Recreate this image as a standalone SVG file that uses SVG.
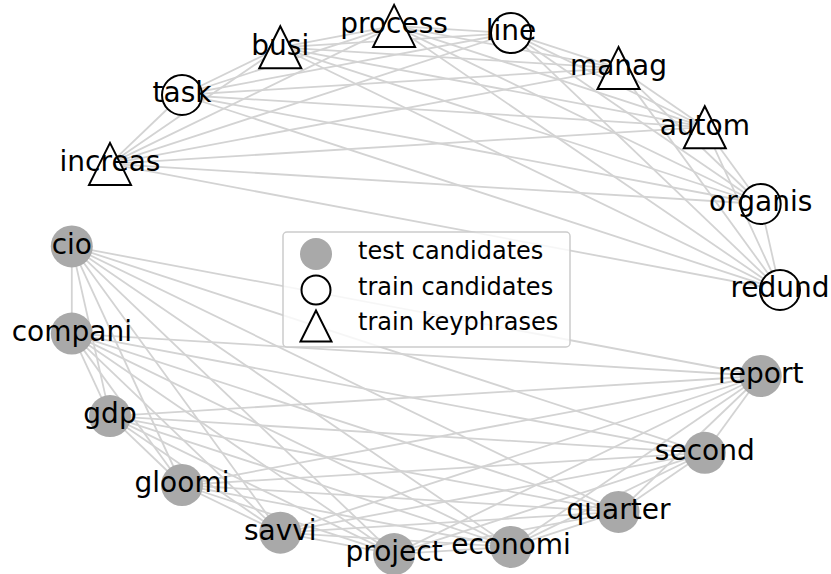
<svg xmlns="http://www.w3.org/2000/svg" xmlns:xlink="http://www.w3.org/1999/xlink" width="831" height="574" viewBox="0 0 831 574">
  <style>
    .e { stroke: #d3d3d3; stroke-width: 1.8; }
    .test { fill: #a9a9a9; }
    .cand { fill: #ffffff; stroke: #000000; stroke-width: 2; }
    .kp { fill: #ffffff; stroke: #000000; stroke-width: 2; stroke-linejoin: miter; }
    .lbl { font-family: "DejaVu Sans", "Liberation Sans", sans-serif; font-size: 28px; fill: #000000; text-anchor: middle; }
    .leg { font-family: "DejaVu Sans", "Liberation Sans", sans-serif; font-size: 24px; fill: #000000; }
  </style>
  <defs>
    <path id="tri" d="M0,-21 L-21,21 L21,21 Z"/>
    <path id="triS" d="M0,-15.5 L-15.5,15.5 L15.5,15.5 Z"/>
  </defs>
  <rect width="831" height="574" fill="#ffffff"/>

  <!-- connectors: two fully connected groups -->
  <g id="edges" class="e">
    <!-- upper group -->
    <line x1="780" y1="290" x2="760.7" y2="204"/>
    <line x1="780" y1="290" x2="704.8" y2="127.2"/>
    <line x1="780" y1="290" x2="618.5" y2="68.1"/>
    <line x1="780" y1="290" x2="511" y2="33.1"/>
    <line x1="780" y1="290" x2="394.1" y2="25.9"/>
    <line x1="780" y1="290" x2="280.3" y2="47.3"/>
    <line x1="780" y1="290" x2="182" y2="95"/>
    <line x1="780" y1="290" x2="110" y2="163.9"/>
    <line x1="760.7" y1="204" x2="704.8" y2="127.2"/>
    <line x1="760.7" y1="204" x2="618.5" y2="68.1"/>
    <line x1="760.7" y1="204" x2="511" y2="33.1"/>
    <line x1="760.7" y1="204" x2="394.1" y2="25.9"/>
    <line x1="760.7" y1="204" x2="280.3" y2="47.3"/>
    <line x1="760.7" y1="204" x2="182" y2="95"/>
    <line x1="760.7" y1="204" x2="110" y2="163.9"/>
    <line x1="704.8" y1="127.2" x2="618.5" y2="68.1"/>
    <line x1="704.8" y1="127.2" x2="511" y2="33.1"/>
    <line x1="704.8" y1="127.2" x2="394.1" y2="25.9"/>
    <line x1="704.8" y1="127.2" x2="280.3" y2="47.3"/>
    <line x1="704.8" y1="127.2" x2="182" y2="95"/>
    <line x1="704.8" y1="127.2" x2="110" y2="163.9"/>
    <line x1="618.5" y1="68.1" x2="511" y2="33.1"/>
    <line x1="618.5" y1="68.1" x2="394.1" y2="25.9"/>
    <line x1="618.5" y1="68.1" x2="280.3" y2="47.3"/>
    <line x1="618.5" y1="68.1" x2="182" y2="95"/>
    <line x1="618.5" y1="68.1" x2="110" y2="163.9"/>
    <line x1="511" y1="33.1" x2="394.1" y2="25.9"/>
    <line x1="511" y1="33.1" x2="280.3" y2="47.3"/>
    <line x1="511" y1="33.1" x2="182" y2="95"/>
    <line x1="511" y1="33.1" x2="110" y2="163.9"/>
    <line x1="394.1" y1="25.9" x2="280.3" y2="47.3"/>
    <line x1="394.1" y1="25.9" x2="182" y2="95"/>
    <line x1="394.1" y1="25.9" x2="110" y2="163.9"/>
    <line x1="280.3" y1="47.3" x2="182" y2="95"/>
    <line x1="280.3" y1="47.3" x2="110" y2="163.9"/>
    <line x1="182" y1="95" x2="110" y2="163.9"/>
    <!-- lower group -->
    <line x1="71.8" y1="246.4" x2="71.8" y2="333.6"/>
    <line x1="71.8" y1="246.4" x2="110" y2="416.1"/>
    <line x1="71.8" y1="246.4" x2="182" y2="485"/>
    <line x1="71.8" y1="246.4" x2="280.3" y2="532.7"/>
    <line x1="71.8" y1="246.4" x2="394.1" y2="554.1"/>
    <line x1="71.8" y1="246.4" x2="511" y2="546.9"/>
    <line x1="71.8" y1="246.4" x2="618.5" y2="511.9"/>
    <line x1="71.8" y1="246.4" x2="704.8" y2="452.8"/>
    <line x1="71.8" y1="246.4" x2="760.7" y2="376"/>
    <line x1="71.8" y1="333.6" x2="110" y2="416.1"/>
    <line x1="71.8" y1="333.6" x2="182" y2="485"/>
    <line x1="71.8" y1="333.6" x2="280.3" y2="532.7"/>
    <line x1="71.8" y1="333.6" x2="394.1" y2="554.1"/>
    <line x1="71.8" y1="333.6" x2="511" y2="546.9"/>
    <line x1="71.8" y1="333.6" x2="618.5" y2="511.9"/>
    <line x1="71.8" y1="333.6" x2="704.8" y2="452.8"/>
    <line x1="71.8" y1="333.6" x2="760.7" y2="376"/>
    <line x1="110" y1="416.1" x2="182" y2="485"/>
    <line x1="110" y1="416.1" x2="280.3" y2="532.7"/>
    <line x1="110" y1="416.1" x2="394.1" y2="554.1"/>
    <line x1="110" y1="416.1" x2="511" y2="546.9"/>
    <line x1="110" y1="416.1" x2="618.5" y2="511.9"/>
    <line x1="110" y1="416.1" x2="704.8" y2="452.8"/>
    <line x1="110" y1="416.1" x2="760.7" y2="376"/>
    <line x1="182" y1="485" x2="280.3" y2="532.7"/>
    <line x1="182" y1="485" x2="394.1" y2="554.1"/>
    <line x1="182" y1="485" x2="511" y2="546.9"/>
    <line x1="182" y1="485" x2="618.5" y2="511.9"/>
    <line x1="182" y1="485" x2="704.8" y2="452.8"/>
    <line x1="182" y1="485" x2="760.7" y2="376"/>
    <line x1="280.3" y1="532.7" x2="394.1" y2="554.1"/>
    <line x1="280.3" y1="532.7" x2="511" y2="546.9"/>
    <line x1="280.3" y1="532.7" x2="618.5" y2="511.9"/>
    <line x1="280.3" y1="532.7" x2="704.8" y2="452.8"/>
    <line x1="280.3" y1="532.7" x2="760.7" y2="376"/>
    <line x1="394.1" y1="554.1" x2="511" y2="546.9"/>
    <line x1="394.1" y1="554.1" x2="618.5" y2="511.9"/>
    <line x1="394.1" y1="554.1" x2="704.8" y2="452.8"/>
    <line x1="394.1" y1="554.1" x2="760.7" y2="376"/>
    <line x1="511" y1="546.9" x2="618.5" y2="511.9"/>
    <line x1="511" y1="546.9" x2="704.8" y2="452.8"/>
    <line x1="511" y1="546.9" x2="760.7" y2="376"/>
    <line x1="618.5" y1="511.9" x2="704.8" y2="452.8"/>
    <line x1="618.5" y1="511.9" x2="760.7" y2="376"/>
    <line x1="704.8" y1="452.8" x2="760.7" y2="376"/>
  </g>

  <!-- test candidates -->
  <g id="n-cio"><circle class="test" cx="71.8" cy="246.4" r="21"/><text class="lbl" x="71.8" y="253.7">cio</text></g>
  <g id="n-compani"><circle class="test" cx="71.8" cy="333.6" r="21"/><text class="lbl" x="71.8" y="340.9">compani</text></g>
  <g id="n-gdp"><circle class="test" cx="110" cy="416.1" r="21"/><text class="lbl" x="110" y="423.4">gdp</text></g>
  <g id="n-gloomi"><circle class="test" cx="182" cy="485" r="21"/><text class="lbl" x="182" y="492.3">gloomi</text></g>
  <g id="n-savvi"><circle class="test" cx="280.3" cy="532.7" r="21"/><text class="lbl" x="280.3" y="540">savvi</text></g>
  <g id="n-project"><circle class="test" cx="394.1" cy="554.1" r="21"/><text class="lbl" x="394.1" y="561.4">project</text></g>
  <g id="n-economi"><circle class="test" cx="511" cy="546.9" r="21"/><text class="lbl" x="511" y="554.2">economi</text></g>
  <g id="n-quarter"><circle class="test" cx="618.5" cy="511.9" r="21"/><text class="lbl" x="618.5" y="519.2">quarter</text></g>
  <g id="n-second"><circle class="test" cx="704.8" cy="452.8" r="21"/><text class="lbl" x="704.8" y="460.1">second</text></g>
  <g id="n-report"><circle class="test" cx="760.7" cy="376" r="21"/><text class="lbl" x="760.7" y="383.3">report</text></g>

  <!-- train candidates -->
  <g id="n-redund"><circle class="cand" cx="780" cy="290" r="20"/><text class="lbl" x="780" y="297.3">redund</text></g>
  <g id="n-organis"><circle class="cand" cx="760.7" cy="204" r="20"/><text class="lbl" x="760.7" y="211.3">organis</text></g>
  <g id="n-line"><circle class="cand" cx="511" cy="33.1" r="20"/><text class="lbl" x="511" y="40.4">line</text></g>
  <g id="n-task"><circle class="cand" cx="182" cy="95" r="20"/><text class="lbl" x="182" y="102.3">task</text></g>

  <!-- train keyphrases -->
  <g id="n-autom"><use xlink:href="#tri" class="kp" x="704.8" y="127.2"/><text class="lbl" x="704.8" y="134.5">autom</text></g>
  <g id="n-manag"><use xlink:href="#tri" class="kp" x="618.5" y="68.1"/><text class="lbl" x="618.5" y="75.4">manag</text></g>
  <g id="n-process"><use xlink:href="#tri" class="kp" x="394.1" y="25.9"/><text class="lbl" x="394.1" y="33.2">process</text></g>
  <g id="n-busi"><use xlink:href="#tri" class="kp" x="280.3" y="47.3"/><text class="lbl" x="280.3" y="54.6">busi</text></g>
  <g id="n-increas"><use xlink:href="#tri" class="kp" x="110" y="163.9"/><text class="lbl" x="110" y="171.2">increas</text></g>

  <!-- legend -->
  <g id="legend">
    <rect x="283" y="232" width="287" height="115" rx="4" fill="#ffffff" fill-opacity="0.8" stroke="#cccccc" stroke-width="1.5"/>
    <circle class="test" cx="316" cy="254" r="16"/>
    <circle class="cand" cx="316" cy="290" r="14.5"/>
    <use xlink:href="#triS" class="kp" x="316" y="326"/>
    <text class="leg" x="358" y="259">test candidates</text>
    <text class="leg" x="358" y="294.5">train candidates</text>
    <text class="leg" x="358" y="330">train keyphrases</text>
  </g>
</svg>
